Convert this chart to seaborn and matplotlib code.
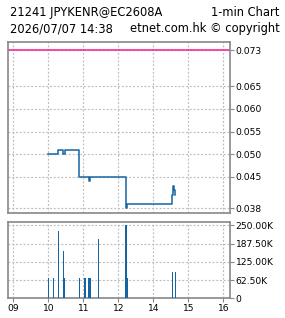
import matplotlib
matplotlib.use("Agg")
import matplotlib.pyplot as plt
import seaborn as sns
import pandas as pd

# ---- data ----
title_left = "21241 JPYKENR@EC2608A"
title_right = "1-min Chart"
stamp = "2026/07/07 14:38"
credit = "etnet.com.hk \u00a9 copyright"

prev_close = 0.073

price_times = ["10:00", "10:17", "10:26", "10:28", "10:52", "11:10", "11:11",
               "13:13", "13:15", "14:32", "14:33", "14:36", "14:38"]
price_vals = [0.050, 0.051, 0.050, 0.051, 0.045, 0.044, 0.045,
              0.038, 0.039, 0.041, 0.043, 0.042, 0.041]

vol_times = ["10:00", "10:09", "10:17", "10:26", "10:28", "10:53", "11:03",
             "11:10", "11:12", "11:26", "13:13", "13:15", "14:33", "14:38"]
vol_vals = [70000, 70000, 230000, 162000, 70000, 70000, 70000,
            70000, 70000, 203000, 251000, 70000, 91000, 91000]

x_tick_labels = ["09", "10", "11", "12", "14", "15", "16"]
price_ticks = [0.038, 0.045, 0.050, 0.055, 0.060, 0.065, 0.073]
vol_ticks = [0, 62500, 125000, 187500, 250000]
vol_tick_labels = ["0", "62.50K", "125.00K", "187.50K", "250.00K"]


def t2x(t):
    h, m = map(int, t.split(":"))
    base = h - 9 if h < 13 else h - 10
    return base + m / 60.0


price_df = pd.DataFrame({"x": [t2x(t) for t in price_times], "price": price_vals})
vol_df = pd.DataFrame({"x": [t2x(t) for t in vol_times], "vol": vol_vals})

# ---- style ----
plt.rcParams["font.family"] = ["DejaVu Sans"]
LINE = "#1565a3"
PINK = "#ff1a8c"
FRAME = "#888888"
GRID = "#bdbdbd"

fig = plt.figure(figsize=(2.85, 3.18), dpi=100)
fig.patch.set_facecolor("white")

ax1 = fig.add_axes([8 / 285, 1 - 213.3 / 318, 222 / 285, (213.3 - 42) / 318])
ax2 = fig.add_axes([8 / 285, 1 - 298.3 / 318, 222 / 285, (298.3 - 221.7) / 318])

xlim = ((8 - 13.3) / 35, (230 - 13.3) / 35)

for ax in (ax1, ax2):
    ax.set_facecolor("white")
    ax.set_xlim(*xlim)
    ax.set_xticks(range(len(x_tick_labels)))
    for s in ax.spines.values():
        s.set_color(FRAME)
        s.set_linewidth(1.2)
    ax.grid(True, color=GRID, linestyle=(0, (1.6, 1.6)), linewidth=0.85)
    ax.set_axisbelow(True)
    ax.yaxis.tick_right()
    ax.tick_params(axis="y", which="both", direction="out", length=2.6, width=0.8,
                   color=FRAME, labelsize=6.6, pad=1.5, labelcolor="black")

# price panel
ax1.axhline(prev_close, color=PINK, linewidth=1.1, zorder=2)
sns.lineplot(data=price_df, x="x", y="price", ax=ax1, color=LINE,
             linewidth=1.1, drawstyle="steps-post", zorder=3)
ax1.set_ylim(0.03687, 0.07484)
ax1.set_yticks(price_ticks)
ax1.set_yticklabels([f"{v:.3f}" for v in price_ticks])
ax1.tick_params(axis="x", length=0, labelbottom=False)
ax1.set_xlabel("")
ax1.set_ylabel("")

# volume panel
ax2.bar(vol_df["x"], vol_df["vol"], width=0.04, color=LINE, linewidth=0, zorder=3)
ax2.set_ylim(0, 263000)
ax2.set_yticks(vol_ticks)
ax2.set_yticklabels(vol_tick_labels)
ax2.set_xticklabels(x_tick_labels)
ax2.tick_params(axis="x", direction="out", length=2.6, width=0.8, color=FRAME,
                labelsize=6.6, pad=1.5, labelcolor="black")
ax2.set_xlabel("")
ax2.set_ylabel("")

# header
fig.text(10 / 285, 1 - 16 / 318, title_left, fontsize=8.3, ha="left", va="baseline")
fig.text(279.5 / 285, 1 - 16 / 318, title_right, fontsize=8.3, ha="right", va="baseline")
fig.text(10 / 285, 1 - 32 / 318, stamp, fontsize=8.3, ha="left", va="baseline")
fig.text(279.5 / 285, 1 - 32 / 318, credit, fontsize=8.3, ha="right", va="baseline")

fig.savefig("out.png", dpi=100, facecolor="white")
